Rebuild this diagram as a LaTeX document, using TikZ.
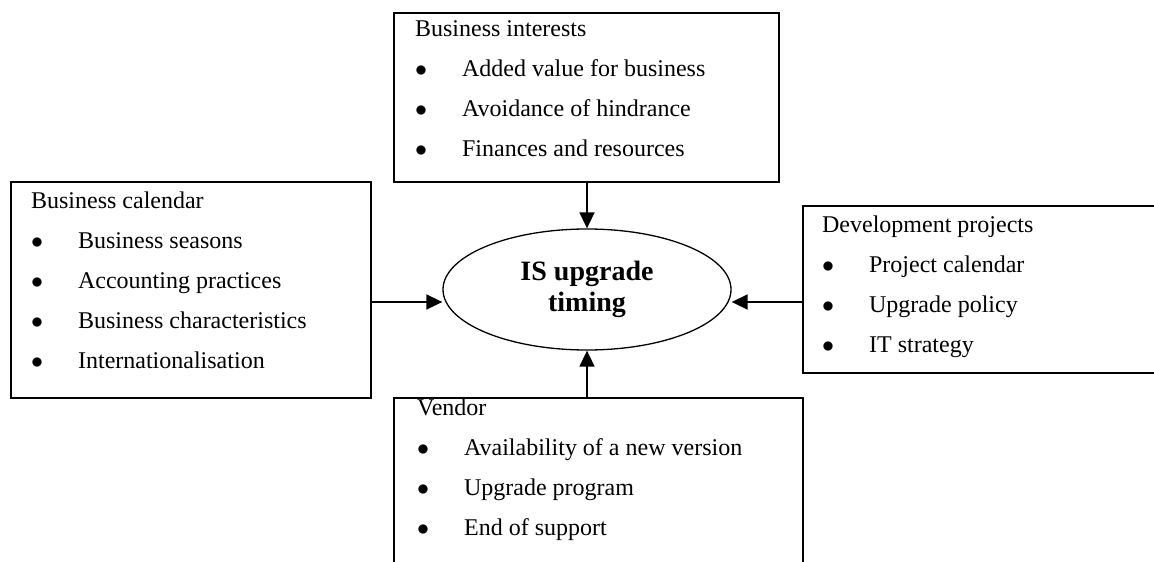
\documentclass[tikz,border=0pt]{standalone}
\usepackage{fontspec}
\setmainfont{Liberation Serif}
\usetikzlibrary{positioning, shapes.geometric, arrows.meta}
\newcommand{\itm}[1]{\makebox[23.5pt][l]{$\bullet$}#1}

\begin{document}
\begin{tikzpicture}[
		x=0.5pt, y=-0.5pt,
		factor/.style={draw, rectangle, line width=1.3pt, inner sep=0pt},
		factortext/.style={align=left, inner sep=0pt, font=\fontsize{12}{20}\selectfont},
		timingnode/.style={draw, ellipse, line width=0.65pt, inner sep=0pt, minimum width=144pt, minimum height=60.5pt, align=center, font=\fontsize{14}{15.5}\selectfont\bfseries},
		arrow/.style={-{Triangle[length=8pt, width=7.5pt]}, line width=0.85pt}
		]
		\clip (0,0) rectangle (1154,561);
		
		% central ellipse
		\node[timingnode] (timing) at (587,289.5) {IS upgrade\\timing};
		
		% the four factor boxes
		\node[factor, minimum width=180pt, minimum height=108pt] (calendar) at (191,290) {};
		\node[factor, minimum width=192.5pt, minimum height=84.5pt] (interests) at (586.5,97.5) {};
		\node[factor, minimum width=188.5pt, minimum height=83.5pt] (projects) at (991.5,289.5) {};
		\node[factor, minimum width=204.5pt, minimum height=91pt] (vendor) at (598.5,489) {};
		
		% box texts
		\node[factortext, below right=5.3pt and 10.5pt of calendar.north west] (calendarlist) {Business calendar\\ \itm{Business seasons}\\ \itm{Accounting practices}\\ \itm{Business characteristics}\\ \itm{Internationalisation}};
		\node[factortext, below right=4.3pt and 11pt of interests.north west] (interestslist) {Business interests\\ \itm{Added value for business}\\ \itm{Avoidance of hindrance}\\ \itm{Finances and resources}};
		\node[factortext, below right=5.3pt and 10pt of projects.north west] (projectslist) {Development projects\\ \itm{Project calendar}\\ \itm{Upgrade policy}\\ \itm{IT strategy}};
		\node[factortext, below right=0.8pt and 12pt of vendor.north west] (vendorlist) {Vendor\\ \itm{Availability of a new version}\\ \itm{Upgrade program}\\ \itm{End of support}};
		
		\coordinate (westtip) at ([yshift=-6.25pt]timing.west);
		\coordinate (easttip) at ([yshift=-6.25pt]timing.east);
		
		\draw[arrow] (interests.south -| timing.north) -- (timing.north);
		\draw[arrow] (calendar.east |- westtip) -- (westtip);
		\draw[arrow] (projects.west |- easttip) -- (easttip);
		\draw[arrow] (vendor.north -| timing.south) -- (timing.south);
		
	\end{tikzpicture}
\end{document}
